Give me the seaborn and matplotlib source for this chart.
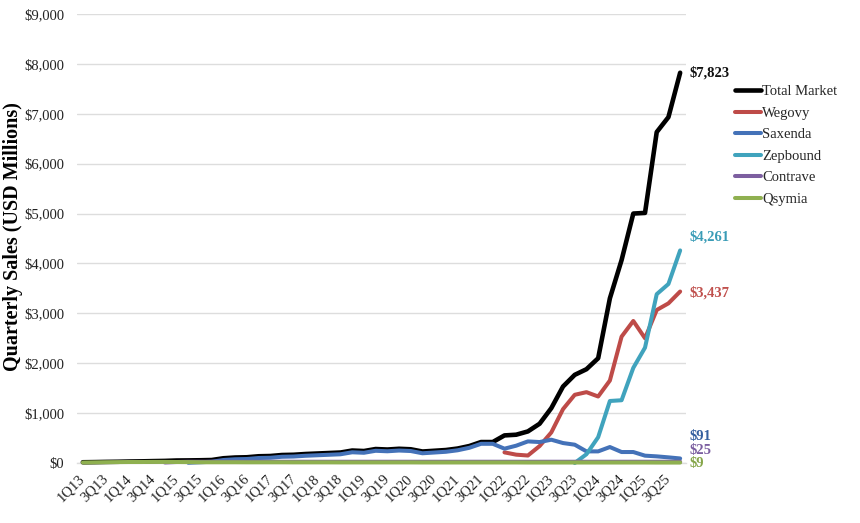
import numpy as np
import pandas as pd
import matplotlib
matplotlib.use("Agg")
import matplotlib.pyplot as plt
from matplotlib.lines import Line2D
import seaborn as sns

nan = np.nan

quarters = [
    "1Q13", "2Q13", "3Q13", "4Q13", "1Q14", "2Q14", "3Q14", "4Q14",
    "1Q15", "2Q15", "3Q15", "4Q15", "1Q16", "2Q16", "3Q16", "4Q16",
    "1Q17", "2Q17", "3Q17", "4Q17", "1Q18", "2Q18", "3Q18", "4Q18",
    "1Q19", "2Q19", "3Q19", "4Q19", "1Q20", "2Q20", "3Q20", "4Q20",
    "1Q21", "2Q21", "3Q21", "4Q21", "1Q22", "2Q22", "3Q22", "4Q22",
    "1Q23", "2Q23", "3Q23", "4Q23", "1Q24", "2Q24", "3Q24", "4Q24",
    "1Q25", "2Q25", "3Q25", "4Q25",
]

total_market = [
    15, 18, 22, 25, 30, 33, 38, 42,
    50, 52, 55, 60, 95, 110, 115, 135,
    140, 160, 165, 180, 190, 200, 210, 250,
    240, 280, 270, 285, 275, 230, 245, 260,
    290, 340, 420, 420, 553, 567, 633, 787,
    1100, 1533, 1767, 1880, 2100, 3300, 4067, 5000,
    5013, 6633, 6933, 7823,
]

wegovy = [nan] * 36 + [
    213, 167, 150, 340,
    613, 1080, 1367, 1420, 1333, 1653, 2533, 2847,
    2500, 3067, 3200, 3437,
]

saxenda = [nan] * 9 + [
    5, 15, 25, 60, 75, 80, 100,
    105, 125, 130, 145, 155, 165, 175, 215,
    205, 245, 235, 250, 240, 195, 210, 225,
    255, 305, 385, 385, 287, 347, 433, 420,
    467, 400, 367, 233, 233, 320, 220, 220,
    147, 133, 113, 91,
]

zepbound = [nan] * 42 + [
    0, 176, 517, 1243, 1258, 1907,
    2312, 3384, 3588, 4261,
]

contrave = [nan] * 7 + [
    10,
    20, 25, 25, 25, 25, 25, 25, 25,
    25, 25, 25, 25, 25, 25, 25, 25,
    25, 25, 25, 25, 25, 25, 25, 25,
    25, 25, 25, 25, 25, 25, 25, 25,
    25, 25, 25, 25, 25, 25, 25, 25,
    25, 25, 25, 25,
]

qsymia = [
    10, 13, 16, 18, 20, 20, 22, 22,
    20, 18, 15, 15, 15, 15, 14, 14,
    14, 14, 13, 13, 13, 13, 12, 12,
    12, 12, 12, 12, 12, 11, 11, 11,
    11, 11, 11, 11, 11, 11, 10, 10,
    10, 10, 10, 10, 10, 10, 10, 10,
    10, 9, 9, 9,
]

names = ["Total Market", "Wegovy", "Saxenda", "Zepbound", "Contrave", "Qsymia"]
series = [total_market, wegovy, saxenda, zepbound, contrave, qsymia]

line_colors = {
    "Total Market": "#000000",
    "Wegovy": "#BE4B48",
    "Saxenda": "#4472B8",
    "Zepbound": "#40A3BD",
    "Contrave": "#7D5FA0",
    "Qsymia": "#8FB050",
}
label_colors = {
    "Total Market": "#111111",
    "Wegovy": "#C0504D",
    "Saxenda": "#35609F",
    "Zepbound": "#3A9CB6",
    "Contrave": "#7B5EA0",
    "Qsymia": "#86A64A",
}
# vertical nudges (pixels) for the end labels, to avoid overlap
label_nudge = {
    "Total Market": 0, "Wegovy": -1, "Saxenda": 22,
    "Zepbound": 14, "Contrave": 11, "Qsymia": -1,
}

rows = []
for name, vals in zip(names, series):
    for i, v in enumerate(vals):
        rows.append((i, v, name))
df = pd.DataFrame(rows, columns=["idx", "sales", "drug"]).dropna()

sns.set_theme(style="white")
plt.rcParams["font.family"] = ["Liberation Serif", "DejaVu Serif"]

fig = plt.figure(figsize=(8.6, 5.23), dpi=100)
ax = fig.add_axes([77 / 860, 60 / 523, (686 - 77) / 860, (463 - 14) / 523])

sns.lineplot(
    data=df, x="idx", y="sales", hue="drug", hue_order=names,
    palette=line_colors, linewidth=2.9, ax=ax, legend=False,
)
for ln in ax.lines:
    ln.set_zorder(3)
    ln.set_clip_on(False)
    if matplotlib.colors.to_hex(ln.get_color()) == "#000000":
        ln.set_linewidth(3.3)

ax.set_xlim(-0.5, len(quarters) - 0.5)
ax.set_ylim(0, 9000)
yt = np.arange(0, 9001, 1000)
ax.set_yticks(yt)
ax.set_yticklabels([f"${v:,.0f}" for v in yt], fontsize=10.5, color="#222222")
xt = np.arange(0, len(quarters), 2)
ax.set_xticks(xt)
ax.set_xticklabels([quarters[i] for i in xt], rotation=45, ha="right",
                   va="center", rotation_mode="anchor", fontsize=10.5, color="#222222")
ax.tick_params(axis="both", length=0)
ax.tick_params(axis="y", pad=9)
ax.tick_params(axis="x", pad=10)
ax.yaxis.grid(True, color="#DDDDDD", linewidth=1)
ax.xaxis.grid(False)
ax.set_axisbelow(True)
for s in ["top", "right", "left"]:
    ax.spines[s].set_visible(False)
ax.spines["bottom"].set_color("#DDDDDD")
ax.spines["bottom"].set_linewidth(1)
ax.spines["bottom"].set_zorder(0.5)
ax.set_xlabel("")
ax.set_ylabel("Quarterly Sales (USD Millions)", fontsize=14.5, fontweight="bold",
              color="#000000")
ax.yaxis.set_label_coords((23 - 77) / 609, (463 - 237) / 449)

last = len(quarters) - 1
for name, vals in zip(names, series):
    v = vals[last]
    ax.annotate(f"${v:,.0f}", xy=(last, v), xytext=(9, label_nudge[name]),
                textcoords="offset pixels", ha="left", va="center",
                fontsize=10.5, fontweight="bold", color=label_colors[name])

handles = [Line2D([0], [0], color=line_colors[n],
                  lw=3.3 if n == "Total Market" else 2.9) for n in names]
fig.legend(handles, names, loc="upper left", bbox_to_anchor=(735 / 860, 1 - 85 / 523),
           frameon=False, fontsize=10.5, handlelength=1.75, handletextpad=0.12,
           labelspacing=0.57, borderpad=0, borderaxespad=0)

fig.savefig("out.png", dpi=100)
